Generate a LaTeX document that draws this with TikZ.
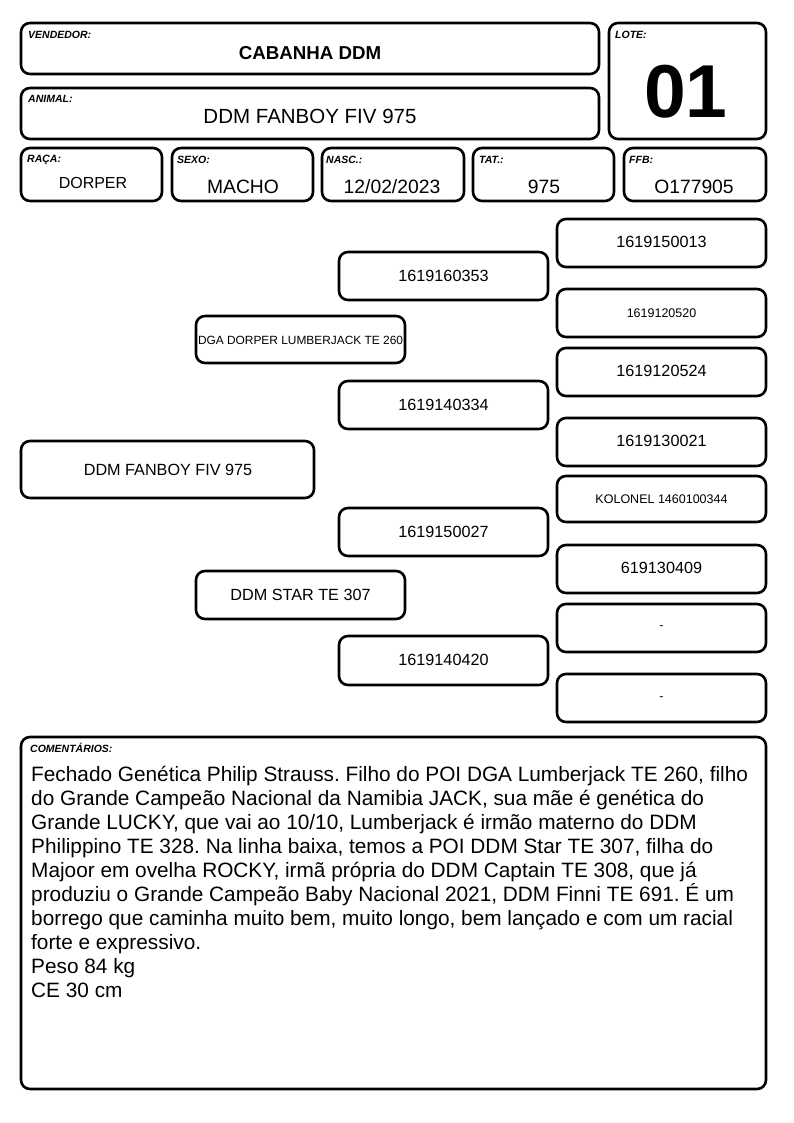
\documentclass[tikz,border=0pt]{standalone}
\usepackage{fontspec}
\setmainfont{Liberation Sans}
\frenchspacing
\begin{document}
\begin{tikzpicture}[x=1pt,y=-1pt,
  box/.style={draw=black,line width=2.6pt,rounded corners=9pt,fill=white},
  lbl/.style={anchor=base west,inner sep=0pt,font=\fontsize{10.5}{12}\selectfont\bfseries\itshape},
  val/.style={inner sep=0pt,font=\fontsize{19.3}{22}\selectfont},
  ped/.style={inner sep=0pt,font=\fontsize{16.2}{19}\selectfont},
  peds/.style={inner sep=0pt,font=\fontsize{12.5}{15}\selectfont},
  com/.style={anchor=base west,inner sep=0pt,font=\fontsize{20.8}{24}\selectfont}]
\useasboundingbox[fill=white] (0,0) rectangle (794,1123);
% header
\draw[box] (21,23) rectangle (599,74);
\node[lbl] (lv) at (28,39) {VENDEDOR:};
\node[inner sep=0pt,font=\fontsize{18.7}{22}\selectfont\bfseries] (vv) at (310,53) {CABANHA DDM};
\draw[box] (21,88) rectangle (599,139);
\node[lbl] (la) at (28,103) {ANIMAL:};
\node[inner sep=0pt,font=\fontsize{20.5}{24}\selectfont] (va) at (310,116) {DDM FANBOY FIV 975};
\draw[box] (609,23) rectangle (766,139);
\node[lbl] (ll) at (615,39) {LOTE:};
\node[inner sep=0pt,font=\fontsize{75}{80}\selectfont\bfseries] (vl) at (686,92) {01};
% row
\draw[box] (21,148) rectangle (162,201);
\node[lbl] (lr) at (27,163) {RAÇA:};
\node[inner sep=0pt,font=\fontsize{16}{19}\selectfont] (vr) at (93,183) {DORPER};
\draw[box] (172,148) rectangle (313,201);
\node[lbl] (ls) at (177,164) {SEXO:};
\node[val] (vs) at (243,187) {MACHO};
\draw[box] (322,148) rectangle (464,201);
\node[lbl] (ln) at (326,164) {NASC.:};
\node[val] (vn) at (392,187) {12/02/2023};
\draw[box] (473,148) rectangle (614,201);
\node[lbl] (lt) at (479,164) {TAT.:};
\node[val] (vt) at (544,187) {975};
\draw[box] (624,148) rectangle (766,201);
\node[lbl] (lf) at (629,164) {FFB:};
\node[val] (vf) at (694,187) {O177905};
% pedigree right column
\draw[box] (557,219) rectangle (766,267); \node[ped] (r1) at (661.5,242) {1619150013};
\draw[box] (557,289) rectangle (766,337); \node[peds] (r2) at (661.5,313) {1619120520};
\draw[box] (557,348) rectangle (766,396); \node[ped] (r3) at (661.5,371) {1619120524};
\draw[box] (557,418) rectangle (766,466); \node[ped] (r4) at (661.5,441) {1619130021};
\draw[box] (557,476) rectangle (766,522); \node[peds] (r5) at (661.5,499) {KOLONEL 1460100344};
\draw[box] (557,545) rectangle (766,593); \node[ped] (r6) at (661.5,568) {619130409};
\draw[box] (557,604) rectangle (766,652); \node[peds] (r7) at (661.5,628) {-};
\draw[box] (557,674) rectangle (766,722); \node[peds] (r8) at (661.5,699) {-};
% middle column
\draw[box] (339,252) rectangle (548,300); \node[ped] (m1) at (443.5,276) {1619160353};
\draw[box] (339,381) rectangle (548,429); \node[ped] (m2) at (443.5,405) {1619140334};
\draw[box] (339,508) rectangle (548,556); \node[ped] (m3) at (443.5,532) {1619150027};
\draw[box] (339,636) rectangle (548,685); \node[ped] (m4) at (443.5,660) {1619140420};
% parents
\draw[box] (196,316) rectangle (405,363); \node[inner sep=0pt,font=\fontsize{11.9}{14}\selectfont] (p1) at (300.5,340) {DGA DORPER LUMBERJACK TE 260};
\draw[box] (196,571) rectangle (405,619); \node[ped] (p2) at (300.5,595) {DDM STAR TE 307};
% animal
\draw[box] (21,441) rectangle (314,498); \node[ped] (an) at (168,470) {DDM FANBOY FIV 975};
% comments
\draw[box] (21,737) rectangle (766,1089);
\node[lbl] (lc) at (30,752) {COMENTÁRIOS:};
\node[com] (c1) at (31,781) {Fechado Genética Philip Strauss. Filho do POI DGA Lumberjack TE 260, filho};
\node[com] (c2) at (31,805) {do Grande Campeão Nacional da Namibia JACK, sua mãe é genética do};
\node[com] (c3) at (31,829) {Grande LUCKY, que vai ao 10/10, Lumberjack é irmão materno do DDM};
\node[com] (c4) at (31,853) {Philippino TE 328. Na linha baixa, temos a POI DDM Star TE 307, filha do};
\node[com] (c5) at (31,877) {Majoor em ovelha ROCKY, irmã própria do DDM Captain TE 308, que já};
\node[com] (c6) at (31,901) {produziu o Grande Campeão Baby Nacional 2021, DDM Finni TE 691. É um};
\node[com] (c7) at (31,925) {borrego que caminha muito bem, muito longo, bem lançado e com um racial};
\node[com] (c8) at (31,949) {forte e expressivo.};
\node[com] (c9) at (31,973) {Peso 84 kg};
\node[com] (c10) at (31,997) {CE 30 cm};
\end{tikzpicture}
\end{document}
